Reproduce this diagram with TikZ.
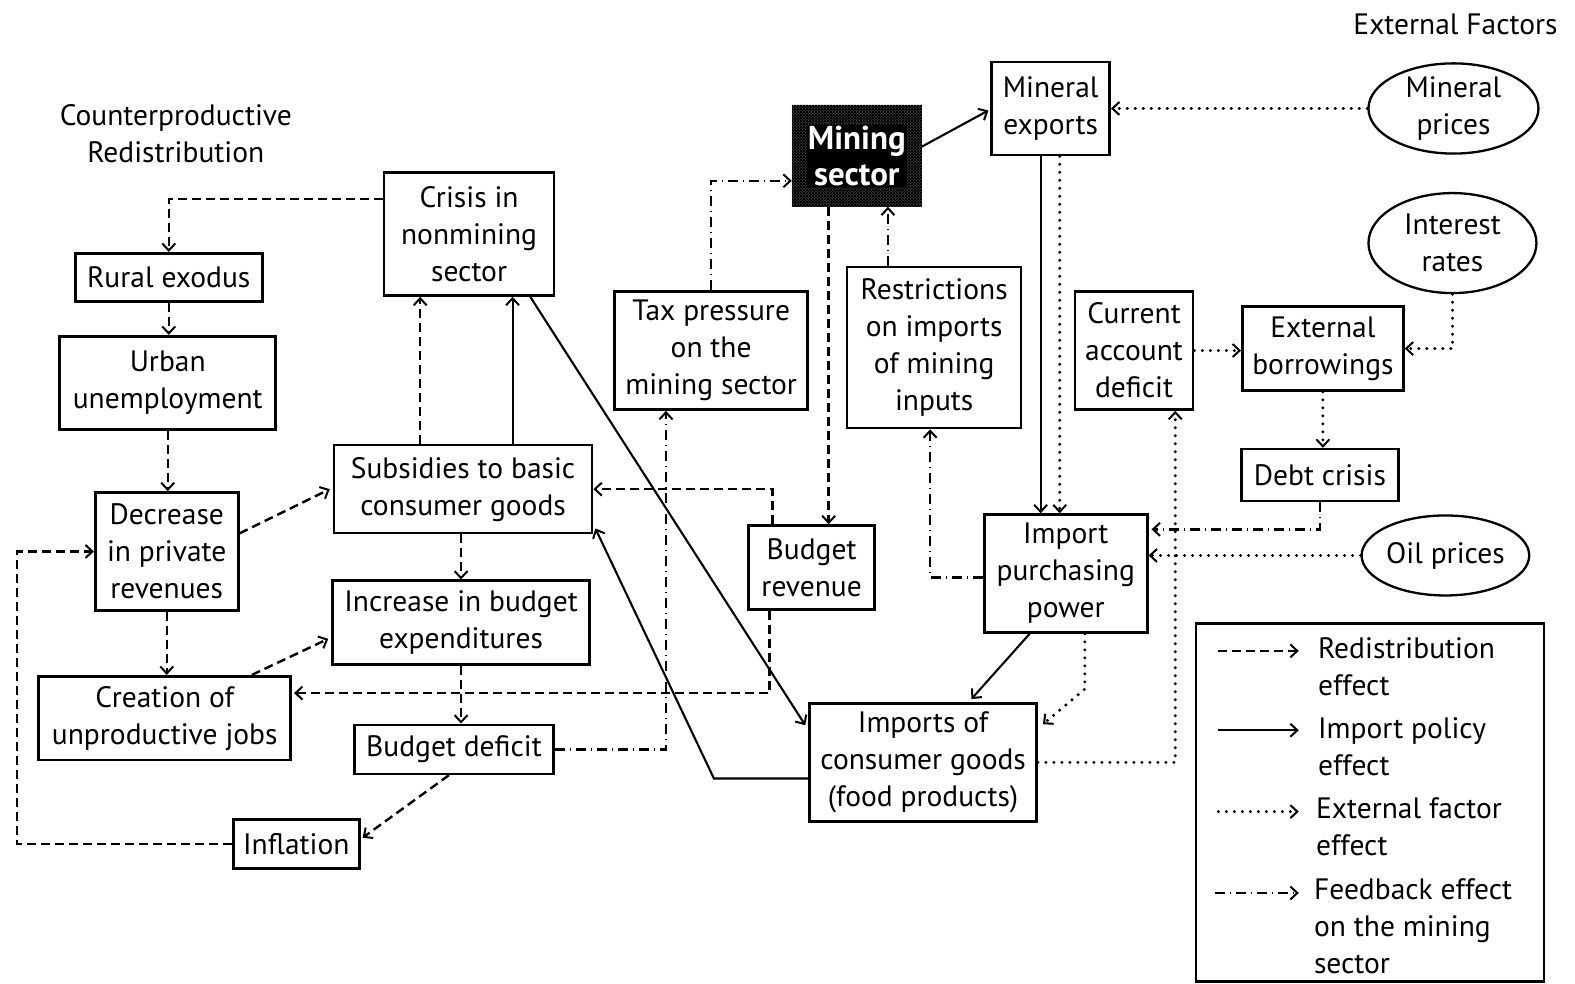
\documentclass[tikz,border=0pt]{standalone}
\usepackage{fontspec}
\newfontfamily\diagfont{PT Sans}
\usetikzlibrary{arrows.meta,calc,shapes.geometric,patterns}
\newcommand\dfont{\diagfont\fontsize{29.5}{37}\selectfont}
\tikzset{
  box/.style={draw, line width=2.6pt, align=center, inner sep=1pt, font=\dfont},
  oval/.style={draw, ellipse, line width=2.3pt, align=center, inner sep=0pt, font=\dfont},
  tip/.style={-{Straight Barb[length=7pt,width=13pt,line width=2pt]}},
  redis/.style={tip, line width=2.4pt, dash pattern=on 9pt off 5pt},
  impol/.style={tip, line width=2.1pt},
  extf/.style={tip, line width=3.3pt, line cap=round, dash pattern=on 0pt off 8pt},
  feedb/.style={tip, line width=2.4pt, dash pattern=on 10pt off 5pt on 1pt off 5pt},
  lbl/.style={font=\dfont, align=left, anchor=west, inner sep=0pt}
}
\begin{document}
\begin{tikzpicture}[x=1.0045pt,y=-1.0045pt]
\useasboundingbox (0,0) rectangle (1568,979);
% titles
\node[font=\dfont, align=center] (ttlL) at (175,133) {Counterproductive\\Redistribution};
\node[font=\dfont] (ttlR) at (1449,24) {External Factors};
% left column
\node[box, minimum width=187, minimum height=48] (rural) at (168,276) {Rural exodus};
\node[box, minimum width=216, minimum height=93] (urban) at (167,381) {Urban\\unemployment};
\node[box, minimum width=143, minimum height=118] (decr) at (166,549) {Decrease\\in private\\revenues};
\node[box, minimum width=252, minimum height=84] (creat) at (164,715) {Creation of\\unproductive jobs};
\node[box, minimum width=126, minimum height=49] (infl) at (295,840) {Inflation};
% middle column
\node[box, minimum width=170, minimum height=123] (crisis) at (467,233) {Crisis in\\nonmining\\sector};
\node[box, minimum width=258, minimum height=88] (subs) at (461,487) {Subsidies to basic\\consumer goods};
\node[box, minimum width=257, minimum height=84] (incr) at (459,620) {Increase in budget\\expenditures};
\node[box, minimum width=199, minimum height=49] (bdef) at (452,746) {Budget deficit};
\node[box, minimum width=193, minimum height=118] (tax) at (708,349) {Tax pressure\\on the\\mining sector};
\node[box, minimum width=126, minimum height=84] (brev) at (808,565) {Budget\\revenue};
% mining sector
\node[draw, fill=black, line width=2pt, minimum width=128, minimum height=100, inner sep=0pt] (mining) at (853,155) {};
\fill[pattern=crosshatch dots, pattern color=gray] (mining.north west) rectangle (mining.south east);
\node[font=\diagfont\bfseries\fontsize{33}{36}\selectfont, text=white, align=center, fill=black, inner sep=1pt] (mintext) at (mining.center) {Mining\\sector};
% right part
\node[box, minimum width=118, minimum height=93] (mexp) at (1046,108) {Mineral\\exports};
\node[box, minimum width=174, minimum height=161] (restr) at (930,346) {Restrictions\\on imports\\of mining\\inputs};
\node[box, minimum width=118, minimum height=118] (curr) at (1129,349) {Current\\account\\deficit};
\node[box, minimum width=161, minimum height=84] (extb) at (1317,347) {External\\borrowings};
\node[box, minimum width=157, minimum height=52] (debt) at (1314,473) {Debt crisis};
\node[box, minimum width=163, minimum height=118] (ipp) at (1061,571) {Import\\purchasing\\power};
\node[box, minimum width=227, minimum height=118] (imports) at (919,759) {Imports of\\consumer goods\\(food products)};
\node[oval, minimum width=170, minimum height=88] (mprice) at (1447,108) {Mineral\\prices};
\node[oval, minimum width=168, minimum height=100] (irate) at (1446,242) {Interest\\rates};
\node[oval, minimum width=166, minimum height=80] (oil) at (1439,553) {Oil prices};
% redistribution effects
\draw[redis] ($(crisis.west)+(0,-35)$) -| (rural.north);
\draw[redis] (rural.south) -- (rural.south |- urban.north);
\draw[redis] (urban.south) -- (urban.south |- decr.north);
\draw[redis] (decr.south) -- (decr.south |- creat.north);
\draw[redis] ($(decr.east)+(0,-18)$) -- ($(subs.west)+(-3,0)$);
\draw[redis] ($(creat.north east)+(-40,0)$) -- ($(incr.west)+(-3,16)$);
\draw[redis] (incr.north |- subs.south) -- (incr.north);
\draw[redis] (incr.south) -- (incr.south |- bdef.north);
\draw[redis] ($(bdef.south)+(-5,0)$) -- ($(infl.east)+(2,-6)$);
\draw[redis] (infl.west) -- ++(-214,0) |- (decr.west);
\coordinate (sA) at ($(subs.north west)+(87,0)$);
\draw[redis] (sA) -- (sA |- crisis.south);
\draw[redis] ($(brev.north)+(-39,0)$) |- (subs.east);
\draw[redis] ($(brev.south)+(-42,0)$) |- ($(creat.east)+(2,-25)$);
\coordinate (mB) at ($(mining.south)+(-28,0)$);
\draw[redis] (mB) -- (mB |- brev.north);
% import policy effects
\coordinate (sB) at ($(subs.north west)+(179,0)$);
\draw[impol] (sB) -- (sB |- crisis.south);
\draw[impol] ($(mining.east)+(0,-9)$) -- ($(mexp.west)+(-2,2)$);
\coordinate (eA) at ($(mexp.south)+(-10,0)$);
\draw[impol] (eA) -- (eA |- ipp.north);
\draw[impol] ($(ipp.south)+(-36,0)$) -- ($(imports.north)+(48,-3)$);
\draw[impol] ($(crisis.south east)+(-25,0)$) -- ($(imports.west)+(-3,-37)$);
\draw[impol] ($(imports.west)+(0,16)$) -- ++(-94,0) -- ($(subs.south east)+(2,-6)$);
% external factor effects
\draw[extf] (mprice.west) -- (mprice.west -| mexp.east);
\coordinate (eB) at ($(mexp.south)+(9,0)$);
\draw[extf] (eB) -- (eB |- ipp.north);
\draw[extf] (irate.south) |- (extb.east);
\draw[extf] (curr.east) -- (curr.east -| extb.west);
\draw[extf] (extb.south) -- (extb.south |- debt.north);
\draw[extf] (oil.west) -- (oil.west -| ipp.east);
\draw[extf] (imports.east) -| ($(curr.south)+(41,0)$);
\draw[extf] ($(ipp.south)+(19,0)$) -- ++(0,55) -- ($(imports.east)+(5,-38)$);
% feedback effects
\draw[feedb] (tax.north) |- ($(mining.west)+(0,25)$);
\coordinate (rA) at ($(restr.north)+(-46,0)$);
\draw[feedb] (rA) -- (rA |- mining.south);
\draw[feedb] ($(ipp.west)+(0,4)$) -| ($(restr.south)+(-4,0)$);
\draw[feedb] (bdef.east) -| ($(tax.south)+(-45,0)$);
\draw[feedb] (debt.south) |- ($(ipp.east)+(3,-44)$);
% legend
\node[draw, line width=2.4pt, minimum width=348, minimum height=358, inner sep=0pt] (legend) at (1364,799) {};
\coordinate (l1a) at (1213,648); \coordinate (l1b) at (1293,648);
\coordinate (l2a) at (1213,727); \coordinate (l2b) at (1293,727);
\coordinate (l3a) at (1213,808); \coordinate (l3b) at (1293,808);
\coordinate (l4a) at (1210,889); \coordinate (l4b) at (1293,889);
\draw[redis] (l1a) -- (l1b);
\draw[impol] (l2a) -- (l2b);
\draw[extf] (l3a) -- (l3b);
\draw[feedb] (l4a) -- (l4b);
\node[lbl] (t1) at (1312,664) {Redistribution\\effect};
\node[lbl] (t2) at (1312,743) {Import policy\\effect};
\node[lbl] (t3) at (1310,823) {External factor\\effect};
\node[lbl] (t4) at (1308,922) {Feedback effect\\on the mining\\sector};
\end{tikzpicture}
\end{document}
